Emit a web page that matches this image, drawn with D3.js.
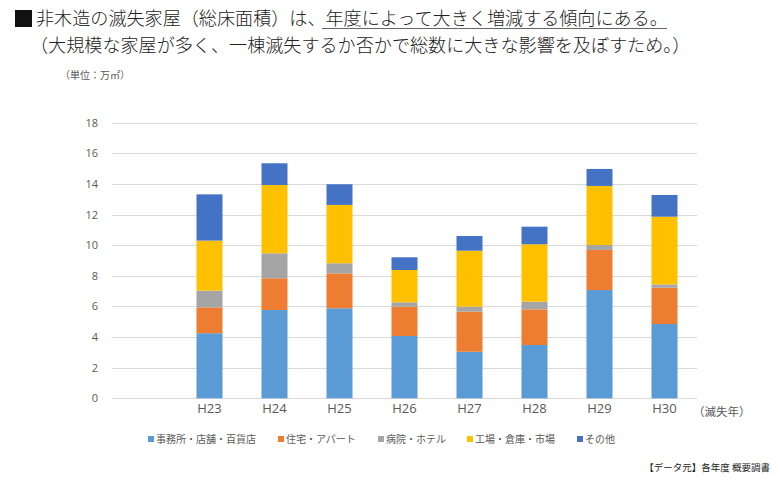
<!DOCTYPE html>
<html><head><meta charset="utf-8">
<script src="https://cdn.jsdelivr.net/npm/d3@7"></script>
<style>
html,body{margin:0;padding:0;background:#fff;}
svg{display:block;font-family:"Noto Sans CJK JP","Noto Sans",sans-serif;}
</style></head>
<body>
<svg id="c" width="780" height="484"></svg>
<script>
const years = ["H23","H24","H25","H26","H27","H28","H29","H30"];
const seriesNames = ["事務所・店舗・百貨店","住宅・アパート","病院・ホテル","工場・倉庫・市場","その他"];
const office   = [4.25, 5.77, 5.88, 4.07, 3.04, 3.48, 7.07, 4.85];
const housing  = [1.69, 2.07, 2.28, 1.91, 2.62, 2.33, 2.62, 2.37];
const hospital = [1.09, 1.63, 0.66, 0.29, 0.32, 0.50, 0.32, 0.22];
const factory  = [3.27, 4.46, 3.81, 2.11, 3.66, 3.75, 3.86, 4.42];
const other    = [3.02, 1.42, 1.35, 0.83, 0.96, 1.15, 1.11, 1.42];
const yTicks = [0,2,4,6,8,10,12,14,16,18];
const colors = ["#5B9BD5","#ED7D31","#A5A5A5","#FFC000","#4472C4"];

const svg = d3.select("#c");
const keys = ["office","housing","hospital","factory","other"];
const rows = years.map((y,i)=>({year:y, office:office[i], housing:housing[i], hospital:hospital[i], factory:factory[i], other:other[i]}));
const stack = d3.stack().keys(keys)(rows);

const x = d3.scaleBand().domain(["", ...years]).range([112,697]).paddingInner(0.6).paddingOuter(0.3);
const y = d3.scaleLinear().domain([0,18]).range([398.3,122.7]);

// gridlines
svg.append("g").selectAll("line").data(yTicks).join("line")
  .attr("x1",112).attr("x2",697)
  .attr("y1",d=>Math.round(y(d))+0.5).attr("y2",d=>Math.round(y(d))+0.5)
  .attr("stroke","#d9d9d9").attr("stroke-width",1);

// y axis labels
const yAxis = d3.axisLeft(y).tickValues(yTicks).tickSize(0).tickPadding(0);
const gy = svg.append("g").attr("transform","translate(98,0)").call(yAxis);
gy.select(".domain").remove();
gy.selectAll("text").attr("fill","#595959").attr("font-size","11px").attr("font-family","'Open Sans','Noto Sans',sans-serif");

// bars
svg.append("g").selectAll("g").data(stack).join("g")
  .attr("fill",(d,i)=>colors[i])
  .selectAll("rect").data(d=>d).join("rect")
  .attr("x",d=>x(d.data.year)).attr("width",x.bandwidth())
  .attr("y",d=>y(d[1])).attr("height",d=>y(d[0])-y(d[1]));

// x axis labels
const xAxis = d3.axisBottom(x).tickSize(0).tickPadding(0);
const gx = svg.append("g").attr("transform","translate(0,404)").call(xAxis);
gx.select(".domain").remove();
gx.selectAll("text").attr("fill","#595959").attr("font-size","13px").attr("font-family","'Open Sans','Noto Sans',sans-serif");

svg.append("text").attr("x",693).attr("y",416).attr("font-size","11.5px").attr("fill","#595959").text("（滅失年）");

// title
svg.append("rect").attr("x",15).attr("y",10).attr("width",17).attr("height",17).attr("fill","#111");
svg.append("text").attr("x",36).attr("y",25).attr("font-size","18.1px").attr("font-weight",300).attr("fill","#222").text("非木造の滅失家屋（総床面積）は、年度によって大きく増減する傾向にある。");
svg.append("line").attr("x1",322).attr("x2",667).attr("y1",28.5).attr("y2",28.5).attr("stroke","#666").attr("stroke-width",1);
svg.append("text").attr("x",30).attr("y",52).attr("font-size","18.1px").attr("font-weight",300).attr("fill","#222").text("（大規模な家屋が多く、一棟滅失するか否かで総数に大きな影響を及ぼすため。）");

svg.append("text").attr("x",60).attr("y",79).attr("font-size","10px").attr("fill","#595959").text("（単位：万㎡）");

// legend
const legX = [148, 278, 378, 467, 577];
const lg = svg.append("g").selectAll("g").data(seriesNames).join("g")
  .attr("transform",(d,i)=>`translate(${legX[i]},439)`);
lg.append("rect").attr("x",0).attr("y",-3).attr("width",6).attr("height",6).attr("fill",(d,i)=>colors[i]);
lg.append("text").attr("x",8).attr("y",3.5).attr("font-size","10px").attr("fill","#595959").text(d=>d);

svg.append("text").attr("x",770).attr("y",471).attr("text-anchor","end").attr("font-size","9.5px").attr("fill","#222").text("【データ元】各年度 概要調書");
</script>
</body></html>
